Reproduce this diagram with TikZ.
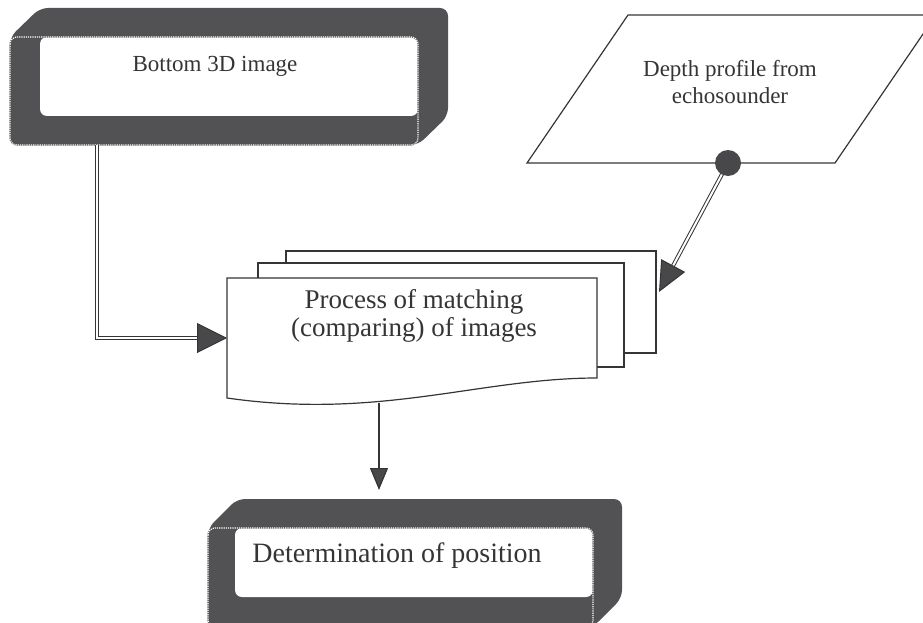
\documentclass[tikz,border=0pt]{standalone}
\usepackage{fontspec}
\setmainfont{Liberation Serif}
\usetikzlibrary{arrows.meta,calc}

\definecolor{framegray}{HTML}{525254}
\definecolor{inkgray}{HTML}{353535}
\definecolor{tipgray}{HTML}{48484B}

\tikzset{
	face/.style={fill=white, draw=none, rounded corners=7pt, inner sep=0pt},
	dotline/.style={draw=framegray, line width=1.2pt, rounded corners=7pt, postaction={draw=white, densely dotted, line width=1.2pt}},
	txt/.style={text=inkgray, inner sep=0pt, align=center},
	boxline/.style={draw=inkgray, fill=white, line width=1.2pt},
	dbl/.style={draw=inkgray, double=white, double distance=2pt, line width=1pt},
	tipfill/.style={tipgray},
}

\begin{document}
\begin{tikzpicture}[x=1pt, y=-1pt]
	\useasboundingbox (0,0) rectangle (923,623);
	\clip (0,0) rectangle (923,623);

	% caja 3D de arriba: marco oscuro, cara blanca, borde punteado
	\fill[framegray, rounded corners=8pt] (10,145) -- (10,37) -- (40,8) -- (448,8) -- (448,116) -- (418,145) -- cycle; % front (10,37)-(418,145), back shifted (30,-29)
	\node[face, minimum width=378pt, minimum height=79pt] (img) at (229,76.5) {}; % face (40,37)-(418,116)
	\draw[dotline] (10,37) rectangle (418,145);
	\node[txt, font=\fontsize{23}{27}\selectfont] (imgtext) at (215,66) {Bottom 3D image};

	% paralelogramo de datos, se sale por la derecha
	\draw[draw=inkgray, line width=1.2pt] (527,163) -- (628,15) -- (936,15) -- (835,163) -- cycle;
	\node[txt, font=\fontsize{23}{27}\selectfont] (depth) at (730,82) {Depth profile from\\echosounder};
	\coordinate (dot) at (728,163); % start of connector on the bottom edge

	% conector al proceso (la punta queda debajo de las hojas)
	\coordinate (procback) at (659,292);
	\draw[dbl, -{Triangle[length=30pt, width=27pt, fill=tipgray]}] (dot) -- (procback);
	\fill[tipfill] (dot) circle (13pt);

	% hojas del proceso: atras, medio, delante (documento con borde ondulado)
	\draw[boxline] (286,251) rectangle (656,353);
	\draw[boxline] (258,263) rectangle (624,367);
	\draw[boxline] (227,278) -- (597,278) -- (597,378) .. controls (480,378) and (380,420) .. (227,398) -- cycle;
	\node[txt, font=\fontsize{27}{28}\selectfont] (proc) at (414,316) {Process of matching\\(comparing) of images};
	\coordinate (procin) at (227,338); % left side of front sheet
	\coordinate (procout) at (379,403); % bottom wave of front sheet

	% conector de la imagen 3D al proceso
	\draw[dbl, -{Triangle[length=30pt, width=30pt, fill=tipgray]}] ($(img.south west)+(57,29)$) |- (procin);

	% caja 3D de abajo, cortada por el borde
	\fill[framegray, rounded corners=8pt] (208,640) -- (208,528) -- (237,499) -- (622,499) -- (622,598) -- (593,627) -- cycle; % front (208,528)-(593,627), back shifted (29,-29)
	\node[face, minimum width=358pt, minimum height=69pt] (pos) at (414,562.5) {}; % face (235,528)-(593,597)
	\draw[dotline] (208,528) rectangle (593,627);
	\node[txt, font=\fontsize{28}{30}\selectfont] (postext) at (397,556) {Determination of position};

	% flecha simple hacia la posicion
	\draw[draw=inkgray, line width=1.2pt, -{Triangle[length=22pt, width=18pt, fill=tipgray]}] (procout) -- (procout |- 0,490);
\end{tikzpicture}
\end{document}
